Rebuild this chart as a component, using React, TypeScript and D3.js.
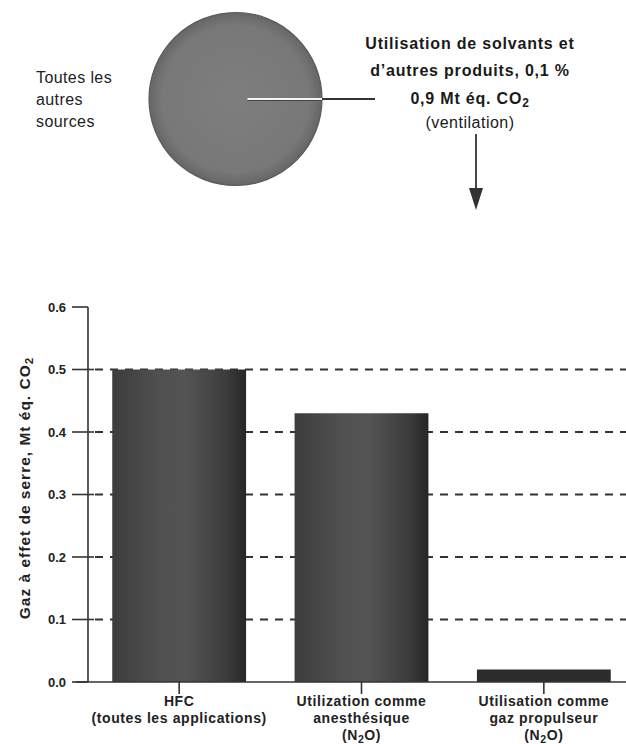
import React from "react";
import * as d3 from "d3";

const pieShares = [99.9, 0.1];
const pieLeftLabel = ["Toutes les", "autres", "sources"];
const pieRightLabel = ["Utilisation de solvants et", "d\u2019autres produits,  0,1 %", "0,9 Mt éq. CO_2", "(ventilation)"];

const categories = ["HFC", "Anesthésique", "Propulseur"];
const values = [0.5, 0.43, 0.02];
const categoryLabels = [
  ["HFC", "(toutes les applications)"],
  ["Utilization comme", "anesthésique", "(N_2O)"],
  ["Utilisation comme", "gaz propulseur", "(N_2O)"],
];
const yTicks = [0, 0.1, 0.2, 0.3, 0.4, 0.5, 0.6];
const gridValues = [0.1, 0.2, 0.3, 0.4, 0.5];
const yTitle = "Gaz à effet de serre, Mt éq. CO_2";

const FONT = "'Liberation Sans', Arial, Helvetica, sans-serif";

function withSub(text: string) {
  const parts = text.split("_2");
  const out: any[] = [];
  parts.forEach((p, i) => {
    out.push(<tspan key={"p" + i}>{p}</tspan>);
    if (i < parts.length - 1) {
      out.push(
        <tspan key={"s" + i} baselineShift="-25%" fontSize="75%">
          2
        </tspan>
      );
    }
  });
  return out;
}

export default function App() {
  const W = 626;
  const H = 744;

  // pie
  const cx = 235.5;
  const cy = 99;
  const r = 86.5;
  const small = (pieShares[1] / 100) * 2 * Math.PI;
  const pie = d3
    .pie<number>()
    .sort(null)
    .startAngle(Math.PI / 2 + small / 2)
    .endAngle(Math.PI / 2 + small / 2 + 2 * Math.PI);
  const arcs = pie(pieShares);
  const arcGen = d3.arc<d3.PieArcDatum<number>>().innerRadius(0).outerRadius(r);

  // bars
  const x = d3.scaleBand<string>().domain(categories).range([88, 635]).paddingInner(0.266).paddingOuter(0.133);
  const y = d3.scaleLinear().domain([0, 0.6]).range([682, 307]);
  const axisX = 88;

  return (
    <svg
      width={W}
      height={H}
      viewBox={`0 0 ${W} ${H}`}
      style={{ position: "absolute", left: 0, top: 0, background: "#fff" }}
      fontFamily={FONT}
    >
      <defs>
        <linearGradient id="barGrad" x1="0" x2="1" y1="0" y2="0">
          <stop offset="0" stopColor="#3c3c3c" />
          <stop offset="0.35" stopColor="#505050" />
          <stop offset="0.55" stopColor="#545454" />
          <stop offset="0.85" stopColor="#3c3c3c" />
          <stop offset="1" stopColor="#262626" />
        </linearGradient>
        <radialGradient id="pieGrad" cx="0.5" cy="0.5" r="0.5">
          <stop offset="0" stopColor="#7e7e7e" />
          <stop offset="0.85" stopColor="#787878" />
          <stop offset="1" stopColor="#666" />
        </radialGradient>
      </defs>

      {/* Pie */}
      <g transform={`translate(${cx},${cy})`}>
        {arcs.map((a, i) => (
          <path key={i} d={arcGen(a) || ""} fill="url(#pieGrad)" stroke="none" />
        ))}
        <circle r={r} fill="none" stroke="#5a5a5a" strokeWidth={1.2} />
      </g>
      <line x1={cx + 12} x2={cx + r} y1={cy + 1.5} y2={cy + 1.5} stroke="#444" strokeWidth={1.2} />
      <line x1={cx + 12} x2={cx + r} y1={cy} y2={cy} stroke="#f4f4f4" strokeWidth={1.8} />
      <line x1={cx + r} x2={375} y1={cy} y2={cy} stroke="#333" strokeWidth={1.8} />

      <g fontSize={16} fill="#222" letterSpacing={0.4}>
        {pieLeftLabel.map((t, i) => (
          <text key={i} x={36} y={83 + i * 22}>
            {t}
          </text>
        ))}
      </g>
      <g fill="#1a1a1a" textAnchor="middle">
        {pieRightLabel.map((t, i) => (
          <text
            key={i}
            x={470}
            y={[49, 76, 104, 128][i]}
            fontWeight={i < 3 ? "bold" : "normal"}
            fontSize={16}
            letterSpacing={i < 3 ? 0.8 : 0.5}
          >
            {withSub(t)}
          </text>
        ))}
      </g>
      {/* arrow */}
      <line x1={476} x2={476} y1={134} y2={195} stroke="#333" strokeWidth={1.8} />
      <path d={`M469,188 L483,188 L476,210 Z`} fill="#333" />

      {/* Bar chart gridlines */}
      {gridValues.map((v) => (
        <line
          key={v}
          x1={axisX + 7}
          x2={W}
          y1={y(v)}
          y2={y(v)}
          stroke="#333"
          strokeWidth={2}
          strokeDasharray="8,7"
        />
      ))}

      {/* bars */}
      {categories.map((c, i) => (
        <rect
          key={c}
          x={x(c)}
          y={y(values[i])}
          width={x.bandwidth()}
          height={y(0) - y(values[i])}
          fill={i === 2 ? "#2c2c2c" : "url(#barGrad)"}
        />
      ))}

      {/* y axis */}
      <line x1={axisX} x2={axisX} y1={y(0.6)} y2={y(0)} stroke="#333" strokeWidth={1.6} />
      {yTicks.map((t) => (
        <g key={t}>
          <line
            x1={72}
            x2={t === 0.6 || t === 0 ? axisX : axisX + 6}
            y1={y(t)}
            y2={y(t)}
            stroke="#333"
            strokeWidth={1.6}
          />
          <text x={66} y={y(t) + 4.5} textAnchor="end" fontSize={13} fontWeight="bold" fill="#222">
            {d3.format(".1f")(t)}
          </text>
        </g>
      ))}
      <text
        transform={`translate(30,488) rotate(-90)`}
        textAnchor="middle"
        fontSize={15.5}
        fontWeight="bold"
        letterSpacing={1}
        fill="#222"
      >
        {withSub(yTitle)}
      </text>

      {/* x axis */}
      <line x1={76} x2={W} y1={y(0)} y2={y(0)} stroke="#333" strokeWidth={1.6} />
      {categories.map((c, i) => {
        const cxb = (x(c) || 0) + x.bandwidth() / 2;
        return (
          <g key={c}>
            <line x1={cxb} x2={cxb} y1={y(0)} y2={y(0) + 12} stroke="#333" strokeWidth={1.6} />
            {categoryLabels[i].map((l, j) => (
              <text
                key={j}
                x={cxb}
                y={706 + j * 17}
                textAnchor="middle"
                fontSize={14}
                fontWeight="bold"
                letterSpacing={0.6}
                fill="#222"
              >
                {withSub(l)}
              </text>
            ))}
          </g>
        );
      })}
    </svg>
  );
}
